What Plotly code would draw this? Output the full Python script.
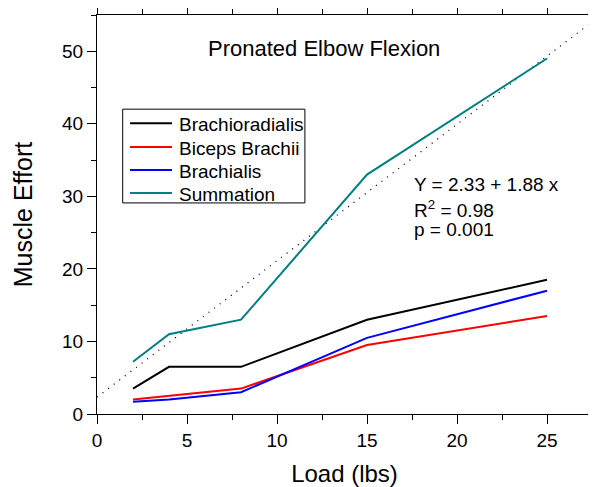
import plotly.graph_objects as go

load = [2, 4, 8, 15, 25]
brachioradialis = [3.5, 6.5, 6.5, 13.0, 18.5]
biceps_brachii = [2.0, 2.5, 3.5, 9.5, 13.5]
brachialis = [1.7, 2.0, 3.0, 10.5, 17.0]
summation = [7.2, 11.0, 13.0, 33.0, 49.0]

fit_intercept = 2.33
fit_slope = 1.88
fit_x = [0, 27.5]
fit_y = [fit_intercept + fit_slope * v for v in fit_x]

series_names = ["Brachioradialis", "Biceps Brachii", "Brachialis", "Summation"]
series_values = [brachioradialis, biceps_brachii, brachialis, summation]
series_colors = ["#000000", "#ff0000", "#0000ff", "#008080"]

FONT = "Arial, Liberation Sans, sans-serif"

fig = go.Figure()
fig.add_trace(go.Scatter(x=fit_x, y=fit_y, mode="lines", showlegend=False,
                         line=dict(color="black", width=1.3, dash="1px,6px")))
for name, vals, col in zip(series_names, series_values, series_colors):
    fig.add_trace(go.Scatter(x=load, y=vals, mode="lines", name=name, showlegend=False,
                             line=dict(color=col, width=2)))

axis_common = dict(showline=True, linecolor="black", linewidth=1.3, mirror="allticks",
                   ticks="outside", ticklen=9, tickwidth=1.3, tickcolor="black",
                   showgrid=False, zeroline=False, automargin=False,
                   tickfont=dict(family=FONT, size=19, color="black"))

fig.update_xaxes(range=[0, 27.5], dtick=5, tick0=0,
                 minor=dict(dtick=2.5, ticks="outside", ticklen=5, tickcolor="black", tickwidth=1.3),
                 title=dict(text="Load (lbs)", font=dict(family=FONT, size=24, color="black"), standoff=17),
                 **axis_common)
fig.update_yaxes(range=[0, 55], dtick=10, tick0=0,
                 minor=dict(dtick=5, ticks="outside", ticklen=5, tickcolor="black", tickwidth=1.3),
                 title=dict(text="Muscle Effort", font=dict(family=FONT, size=25, color="black"), standoff=22),
                 **axis_common)

ann_font = dict(family=FONT, size=19, color="black")
fig.add_annotation(x=0.459, y=0.915, xref="paper", yref="paper", yanchor="middle",
                   text="Pronated Elbow Flexion", showarrow=False,
                   font=dict(family=FONT, size=22, color="black"))
stat_lines = ["Y = 2.33 + 1.88 x", "R<sup>2</sup> = 0.98", "p = 0.001"]
stat_y = [0.5754, 0.5145, 0.4636]
for txt, yy in zip(stat_lines, stat_y):
    fig.add_annotation(x=0.637, y=yy, xref="paper", yref="paper", xanchor="left", yanchor="middle",
                       text=txt, showarrow=False, font=ann_font)

# legend box drawn in paper coordinates
fig.add_shape(type="rect", xref="paper", yref="paper", x0=0.0519, x1=0.420, y0=0.529, y1=0.764,
              line=dict(color="black", width=1), fillcolor="white", layer="above")
legend_rows = [0.729, 0.669, 0.6115, 0.554]
for name, col, yy in zip(series_names, series_colors, legend_rows):
    fig.add_shape(type="line", xref="paper", yref="paper", x0=0.0667, x1=0.1515, y0=yy, y1=yy,
                  line=dict(color=col, width=2), layer="above")
    fig.add_annotation(x=0.1616, y=yy - 0.004, xref="paper", yref="paper", xanchor="left",
                       yanchor="middle", text=name, showarrow=False, font=ann_font)

# page body has an 8px default margin, so the figure is 8px smaller than the window
fig.update_layout(
    width=588, height=479,
    margin=dict(l=89, r=4, t=7, b=73),
    paper_bgcolor="white", plot_bgcolor="white",
    showlegend=False,
)

fig.write_html("out.html")
